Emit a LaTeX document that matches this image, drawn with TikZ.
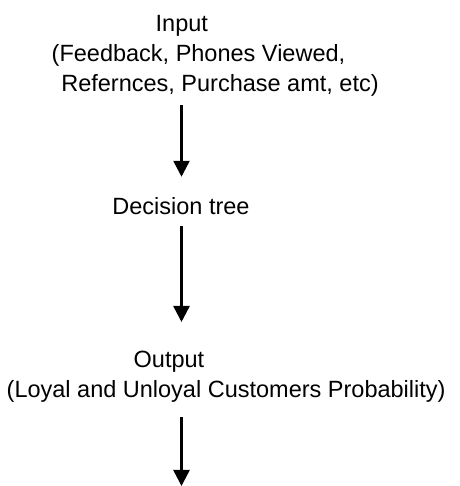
\documentclass[tikz,border=0pt]{standalone}
\usepackage{fontspec}
\setmainfont{Liberation Sans}
\usetikzlibrary{arrows.meta,positioning}

\begin{document}
\begin{tikzpicture}[
  x=1pt, y=1pt,
  >={Triangle[width=16pt,length=16pt]},
  lbl/.style={font=\fontsize{23.5}{30}\selectfont, inner sep=0pt},
  flow/.style={->, line width=2.5pt},
  every node/.style={lbl}
]
\useasboundingbox (0,0) rectangle (459,486);

% Input block
\node[align=left, anchor=north west] (input) at (51.5,471)
  {\hspace*{104pt}Input\\(Feedback, Phones Viewed,\\\hspace*{9.6pt}Refernces, Purchase amt, etc)};

% Decision tree
\node (tree) at (181,279.4) {Decision tree};

% Output block
\node[align=left, anchor=north west] (output) at (6.5,135.5)
  {\hspace*{127pt}Output\\(Loyal and Unloyal Customers Probability)};

% free end at the bottom edge
\coordinate (end) at (181.5,0);

% Flow arrows
\draw[flow, shorten <=9pt, shorten >=21pt] (input.south -| end) -- (tree.north -| end);
\draw[flow, shorten <=11pt, shorten >=28.5pt] (tree.south -| end) -- (output.north -| end);
\draw[flow, shorten <=15pt] (output.south -| end) -- (end);

\end{tikzpicture}
\end{document}
